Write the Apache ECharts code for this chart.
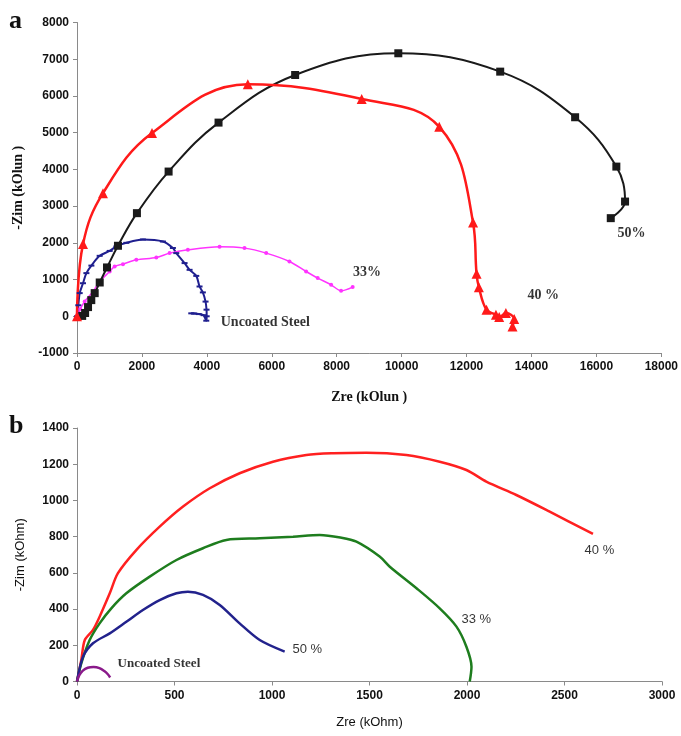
<!DOCTYPE html>
<html>
<head>
<meta charset="utf-8">
<script src="https://cdn.jsdelivr.net/npm/echarts@6/dist/echarts.min.js"></script>
<style>
html,body{margin:0;padding:0;background:#fff;}
#chart{width:681px;height:736px;}
</style>
</head>
<body>
<div id="chart"></div>
<script>
// ---------- Panel a data (Zre, -Zim in kOhm) ----------
var a50x = [160, 250, 340, 440, 545, 700, 925, 1262, 1846, 2822, 4360, 6720, 9898, 13037, 15345, 16615, 16883, 16443];
var a50y = [10, 90, 250, 440, 630, 920, 1330, 1920, 2808, 3941, 5274, 6571, 7162, 6662, 5420, 4076, 3124, 2672];

var a40x = [0, 185, 800, 2310, 5262, 8770, 11160, 12200, 12308, 12380, 12615, 12905, 13006, 13212, 13468, 13415];
var a40y = [0, 1965, 3352, 4990, 6318, 5918, 5160, 2553, 1160, 790, 177, 41, -22, 87, -76, -277];

var a33x = [0, 31, 100, 237, 492, 698, 1006, 1160, 1415, 1828, 2443, 2852, 3415, 4391, 5160, 5828, 6545, 7058, 7415, 7828, 8135, 8492];
var a33y = [0, 50, 200, 403, 675, 947, 1219, 1355, 1420, 1537, 1601, 1720, 1810, 1890, 1856, 1720, 1491, 1219, 1039, 857, 694, 794];

var aUx = [0, 40, 83, 185, 289, 443, 698, 1006, 1212, 1520, 2031, 2646, 2954, 3058, 3314, 3468, 3674, 3775, 3877, 3960, 3990, 3995, 3982, 3900, 3750, 3600, 3520];
var aUy = [0, 300, 631, 900, 1175, 1380, 1646, 1780, 1900, 2000, 2090, 2036, 1860, 1720, 1448, 1265, 1100, 811, 650, 400, 180, 0, -120, 30, 60, 75, 80];

// ---------- Panel b data ----------
var b40x = [0, 22, 40, 82, 116, 168, 210, 305, 424, 544, 681, 834, 1005, 1176, 1313, 1484, 1689, 1860, 1997, 2099, 2253, 2424, 2646];
var b40y = [0, 119, 229, 285, 358, 487, 598, 727, 855, 966, 1067, 1150, 1214, 1251, 1261, 1264, 1251, 1214, 1168, 1104, 1030, 938, 815];

var b33x = [0, 22, 65, 116, 176, 253, 373, 510, 646, 766, 937, 1108, 1245, 1350, 1433, 1552, 1604, 1741, 1860, 1946, 1997, 2023, 2014];
var b33y = [0, 100, 229, 321, 404, 487, 579, 671, 736, 782, 791, 800, 809, 795, 772, 690, 634, 515, 404, 303, 192, 82, 0];

var b50x = [0, 31, 82, 168, 253, 338, 424, 510, 569, 646, 732, 834, 937, 1065];
var b50y = [0, 137, 211, 266, 330, 395, 450, 487, 496, 478, 423, 321, 229, 165];

var bUx = [0, 12, 30, 55, 85, 115, 140, 158, 170];
var bUy = [0, 35, 60, 76, 80, 74, 58, 40, 22];

// ---------- Tick settings & texts ----------
var aXTicks = {min: 0, max: 18000, interval: 2000};
var aYTicks = {min: -1000, max: 8000, interval: 1000};
var bXTicks = {min: 0, max: 3000, interval: 500};
var bYTicks = {min: 0, max: 1400, interval: 200};

var aLabelText = ['50%', '40 %', '33%', 'Uncoated Steel'];
var aLabelX = [17083, 14360, 8930, 5800];
var aLabelY = [2264, 558, 1192, -169];
var bLabelText = ['40 %', '33 %', '50 %', 'Uncoated Steel'];
var bLabelX = [2679, 2048, 1181, 420];
var bLabelY = [723, 343, 178, 100];

function zip(xs, ys) { return xs.map(function (x, i) { return [x, ys[i]]; }); }

var chart = echarts.init(document.getElementById('chart'), null, {renderer: 'canvas'});

var serif = '"Liberation Serif", "Times New Roman", serif';
var sans = '"Liberation Sans", Arial, sans-serif';
var axisGray = '#8a8a8a';

function valueAxis(t, gridIndex, extra) {
  var o = {
    type: 'value', gridIndex: gridIndex,
    min: t.min, max: t.max, interval: t.interval,
    splitLine: {show: false},
    axisLine: {show: true, onZero: false, lineStyle: {color: axisGray, width: 1}},
    axisTick: {show: true, length: 4, lineStyle: {color: axisGray}},
    axisLabel: {color: '#111', fontFamily: sans, fontSize: 12, fontWeight: 'bold', margin: 8,
      formatter: function (v) { return String(v); }}
  };
  for (var k in extra) o[k] = extra[k];
  return o;
}

function labelSeries(texts, xs, ys, xi, yi, font, size, weight) {
  return {
    type: 'scatter', xAxisIndex: xi, yAxisIndex: yi, symbolSize: 1,
    itemStyle: {color: 'rgba(0,0,0,0)'}, silent: true, z: 10,
    label: {show: true, position: 'inside', color: '#000', textBorderWidth: 0, fontFamily: font, fontSize: size, fontWeight: weight,
      formatter: function (p) { return p.name; }},
    data: texts.map(function (t, i) { return {name: t, value: [xs[i], ys[i]]}; })
  };
}

var option = {
  animation: false,
  backgroundColor: '#ffffff',
  grid: [
    {left: 77, top: 22.5, width: 585, height: 330.5},
    {left: 77, top: 428, width: 585, height: 253.5}
  ],
  xAxis: [
    valueAxis(aXTicks, 0, {name: 'Zre (kOlun )', nameLocation: 'middle', nameGap: 37,
      nameTextStyle: {fontFamily: serif, fontWeight: 'bold', fontSize: 14, color: '#111'}}),
    valueAxis(bXTicks, 1, {name: 'Zre (kOhm)', nameLocation: 'middle', nameGap: 34,
      nameTextStyle: {fontFamily: sans, fontSize: 13, color: '#111'}})
  ],
  yAxis: [
    valueAxis(aYTicks, 0, {name: '-Zim (kOlun )', nameLocation: 'middle', nameGap: 52,
      nameTextStyle: {fontFamily: serif, fontWeight: 'bold', fontSize: 14, color: '#111'}}),
    valueAxis(bYTicks, 1, {name: '-Zim (kOhm)', nameLocation: 'middle', nameGap: 50,
      nameTextStyle: {fontFamily: sans, fontSize: 13, color: '#111'}})
  ],
  graphic: [
    {type: 'text', left: 9, top: 8, style: {text: 'a', font: 'bold 26px ' + serif, fill: '#111'}},
    {type: 'text', left: 9, top: 413, style: {text: 'b', font: 'bold 26px ' + serif, fill: '#111'}}
  ],
  series: [
    {name: 'Uncoated Steel', type: 'line', xAxisIndex: 0, yAxisIndex: 0, data: zip(aUx, aUy), smooth: 0.3,
      symbol: 'rect', symbolSize: [6, 2], showAllSymbol: true,
      lineStyle: {color: '#1f1f8f', width: 2}, itemStyle: {color: '#1f1f8f'}},
    {name: '33%', type: 'line', xAxisIndex: 0, yAxisIndex: 0, data: zip(a33x, a33y), smooth: 0.3,
      symbol: 'circle', symbolSize: 4, showAllSymbol: true,
      lineStyle: {color: '#ff33ff', width: 1.5}, itemStyle: {color: '#ff33ff'}},
    {name: '50%', type: 'line', xAxisIndex: 0, yAxisIndex: 0, data: zip(a50x, a50y), smooth: 0.4,
      symbol: 'rect', symbolSize: 8, showAllSymbol: true,
      lineStyle: {color: '#1a1a1a', width: 2}, itemStyle: {color: '#1a1a1a'}},
    {name: '40 %', type: 'line', xAxisIndex: 0, yAxisIndex: 0, data: zip(a40x, a40y), smooth: 0.4,
      symbol: 'triangle', symbolSize: 10, showAllSymbol: true,
      lineStyle: {color: '#ff1a1a', width: 2.5}, itemStyle: {color: '#ff1a1a'}},

    {name: 'b40', type: 'line', xAxisIndex: 1, yAxisIndex: 1, data: zip(b40x, b40y), smooth: 0.3,
      showSymbol: false, lineStyle: {color: '#ff2020', width: 2.5}},
    {name: 'b33', type: 'line', xAxisIndex: 1, yAxisIndex: 1, data: zip(b33x, b33y), smooth: 0.3,
      showSymbol: false, lineStyle: {color: '#1e7d1e', width: 2.5}},
    {name: 'b50', type: 'line', xAxisIndex: 1, yAxisIndex: 1, data: zip(b50x, b50y), smooth: 0.3,
      showSymbol: false, lineStyle: {color: '#22228c', width: 2.5}},
    {name: 'bU', type: 'line', xAxisIndex: 1, yAxisIndex: 1, data: zip(bUx, bUy), smooth: 0.4,
      showSymbol: false, lineStyle: {color: '#8a1a8a', width: 2.5}},

    labelSeries(aLabelText, aLabelX, aLabelY, 0, 0, serif, 14, 'bold'),
    labelSeries(bLabelText, bLabelX, bLabelY, 1, 1, sans, 13, 'normal')
  ]
};
// bottom panel "Uncoated Steel" uses serif bold
option.series[option.series.length - 1].data[3].label = {fontFamily: serif, fontWeight: 'bold', fontSize: 13};

chart.setOption(option);
</script>
</body>
</html>
